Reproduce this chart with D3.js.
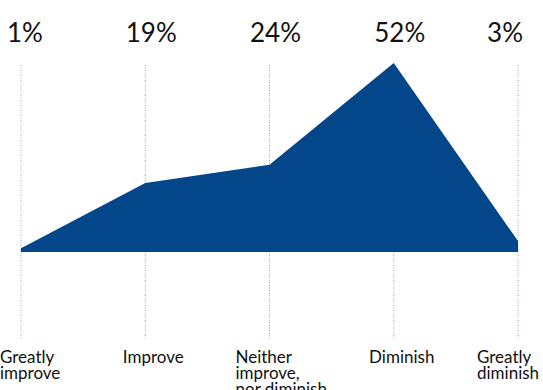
<!DOCTYPE html>
<html>
<head>
<meta charset="utf-8">
<script src="https://cdn.jsdelivr.net/npm/d3@7"></script>
<style>
  body { margin: 0; background: #fff; overflow: hidden; }
  svg { display: block; }
  .pct { font-family: Lato, sans-serif; font-size: 26px; fill: #111; }
  .cat { font-family: Lato, sans-serif; font-size: 17px; fill: #111; }
  .grid { stroke: #8fa8cc; stroke-width: 1; stroke-dasharray: 1,1.5; }
</style>
</head>
<body>
<svg id="chart" width="543" height="390"></svg>
<script>
const categories = ['Greatly improve', 'Improve', 'Neither improve, nor diminish', 'Diminish', 'Greatly diminish'];
const categoryLines = [['Greatly', 'improve'], ['Improve'], ['Neither', 'improve,', 'nor diminish'], ['Diminish'], ['Greatly', 'diminish']];
const values = [1, 19, 24, 52, 3];
const valueLabels = ['1%', '19%', '24%', '52%', '3%'];

const svg = d3.select('#chart');
const last = categories.length - 1;

const xScale = d3.scalePoint()
  .domain(categories)
  .range([21, 518]);

const yScale = d3.scaleLinear()
  .domain([0, 52])
  .range([252, 63]);

// dotted guide lines
svg.selectAll('.grid')
  .data(categories)
  .enter()
  .append('line')
  .attr('class', 'grid')
  .attr('x1', (d) => xScale(d))
  .attr('x2', (d) => xScale(d))
  .attr('y1', 65)
  .attr('y2', 340);

const area = d3.area()
  .x((d, i) => xScale(categories[i]))
  .y0(yScale(0))
  .y1((d) => yScale(d));

svg.append('path')
  .attr('d', area(values))
  .attr('fill', '#03468a');

// percentages on top
svg.selectAll('.pct')
  .data(valueLabels)
  .enter()
  .append('text')
  .attr('class', 'pct')
  .attr('x', (d, i) => xScale(categories[i]))
  .attr('y', 42)
  .attr('text-anchor', (d, i) => i === 0 ? 'start' : i === last ? 'end' : 'middle')
  .attr('dx', (d, i) => i === 0 ? -14 : i === last ? 5 : 6)
  .text((d) => d);

// category labels, wrapped ones are left aligned
const cats = svg.selectAll('.cat')
  .data(categories)
  .enter()
  .append('text')
  .attr('class', 'cat')
  .attr('text-anchor', (d, i) => categoryLines[i].length > 1 ? 'start' : 'middle')
  .attr('transform', (d, i) => {
    let x = xScale(d) + 8;
    if (i === 0) x = 0;
    else if (i === last) x = xScale(d) - 41;
    else if (categoryLines[i].length > 1) x = xScale(d) - 34;
    return `translate(${x}, 363)`;
  });

cats.selectAll('tspan')
  .data((d, i) => categoryLines[i])
  .enter()
  .append('tspan')
  .attr('x', 0)
  .attr('dy', (d, j) => j === 0 ? 0 : 16)
  .text((d) => d);
</script>
</body>
</html>
